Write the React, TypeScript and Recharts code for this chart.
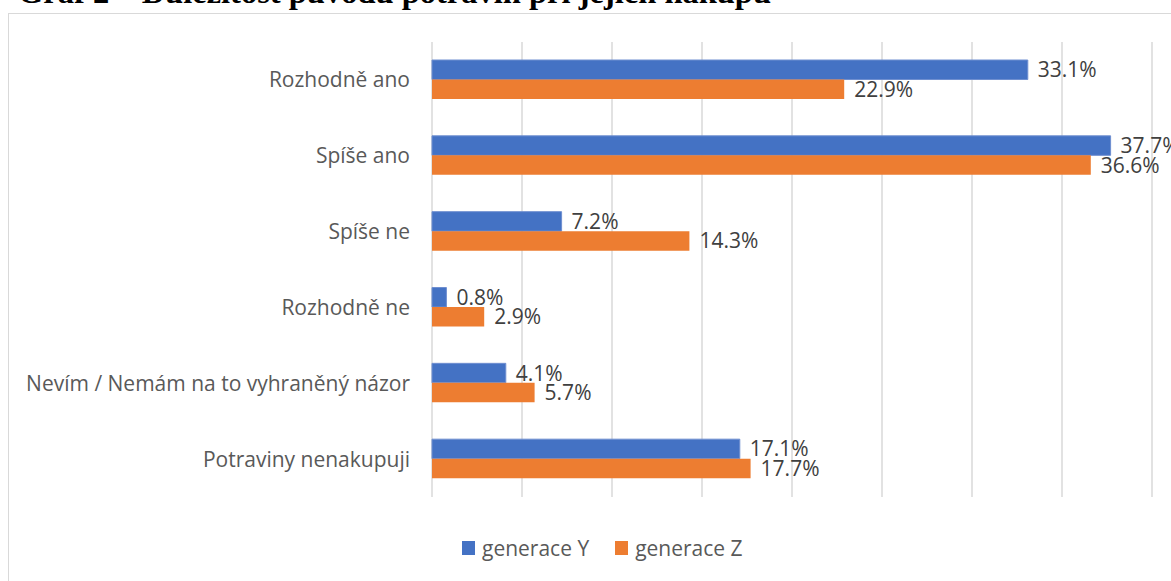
import React from 'react';
import { BarChart, Bar, XAxis, YAxis, CartesianGrid, LabelList } from 'recharts';

const categories = [
  'Rozhodně ano',
  'Spíše ano',
  'Spíše ne',
  'Rozhodně ne',
  'Nevím / Nemám na to vyhraněný názor',
  'Potraviny nenakupuji',
];
const generaceY = [33.1, 37.7, 7.2, 0.8, 4.1, 17.1];
const generaceZ = [22.9, 36.6, 14.3, 2.9, 5.7, 17.7];
const xTicks = [0, 5, 10, 15, 20, 25, 30, 35, 40];

const data = categories.map((name, i) => ({ name, y: generaceY[i], z: generaceZ[i] }));

const BLUE = '#4472C4';
const ORANGE = '#ED7D31';
const FONT = '"Open Sans", sans-serif';

const fmt = (v: number) => `${v.toFixed(1)}%`;

function LegendBox() {
  const item = (color: string, text: string, gap: number) => (
    <span style={{ display: 'inline-flex', alignItems: 'center', marginRight: gap }}>
      <span style={{ width: 13, height: 14, background: color, display: 'inline-block', marginRight: 7 }} />
      <span style={{ color: '#595959', fontSize: 21, fontFamily: FONT }}>{text}</span>
    </span>
  );
  return (
    <div style={{ position: 'absolute', left: 462, top: 534, whiteSpace: 'nowrap', display: 'flex' }}>
      {item(BLUE, 'generace Y', 26)}
      {item(ORANGE, 'generace Z', 0)}
    </div>
  );
}

export default function App() {
  return (
    <div style={{ position: 'fixed', left: 0, top: 0, width: 1171, height: 581, overflow: 'hidden', background: '#fff' }}>
      <div
        style={{
          position: 'absolute',
          left: 18,
          top: -26,
          fontFamily: '"Liberation Serif", "Times New Roman", serif',
          fontWeight: 'bold',
          fontSize: 32.5,
          whiteSpace: 'nowrap',
          color: '#000',
        }}
      >
        Graf 2 – Důležitost původu potravin při jejich nákupu
      </div>
      <div
        style={{
          position: 'absolute',
          left: 8,
          top: 13,
          width: 1200,
          height: 600,
          border: '1px solid #d9d9d9',
        }}
      />
      <div style={{ position: 'absolute', left: 0, top: 0 }}>
        <BarChart
          width={1171}
          height={581}
          data={data}
          layout="vertical"
          margin={{ top: 42, right: 19, bottom: 84, left: 0 }}
          barSize={19.5}
          barGap={0}
        >
          <CartesianGrid horizontal={false} stroke="#d9d9d9" strokeWidth={1.5} />
          <XAxis type="number" domain={[0, 40]} ticks={xTicks} hide />
          <YAxis
            type="category"
            dataKey="name"
            width={432}
            axisLine={false}
            tickLine={false}
            tickSize={0}
            tickMargin={22}
            tick={{ fill: '#595959', fontSize: 21, fontFamily: FONT }}
          />
          <Bar dataKey="y" name="generace Y" fill={BLUE} stroke="#6f8fd0" strokeWidth={1} isAnimationActive={false}>
            <LabelList
              dataKey="y"
              position="right"
              offset={10}
              formatter={(v: number) => fmt(v)}
              style={{ fill: '#404040', fontSize: 21, fontFamily: FONT }}
            />
          </Bar>
          <Bar dataKey="z" name="generace Z" fill={ORANGE} isAnimationActive={false}>
            <LabelList
              dataKey="z"
              position="right"
              offset={10}
              formatter={(v: number) => fmt(v)}
              style={{ fill: '#404040', fontSize: 21, fontFamily: FONT }}
            />
          </Bar>
        </BarChart>
      </div>
      <LegendBox />
    </div>
  );
}
